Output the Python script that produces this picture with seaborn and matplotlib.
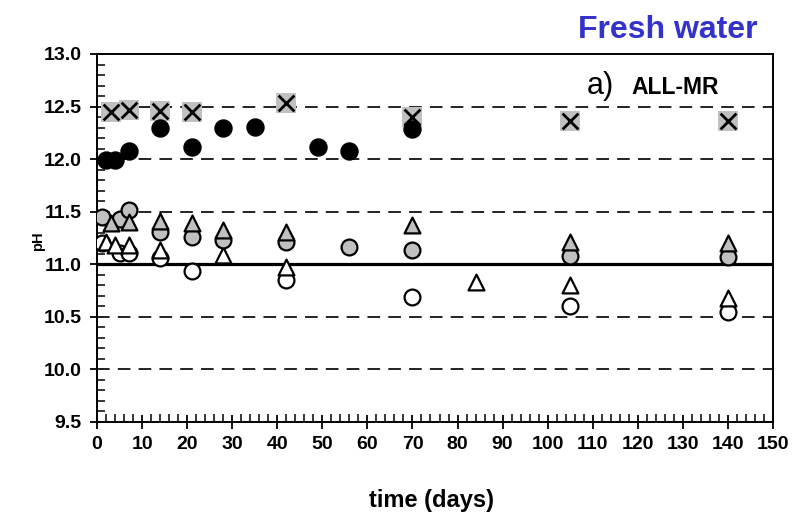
import matplotlib
matplotlib.use("Agg")
import matplotlib.pyplot as plt
from matplotlib.ticker import MultipleLocator, FormatStrFormatter
import seaborn as sns
import pandas as pd

sns.set_theme(style="white")
plt.rcParams["font.family"] = ["Liberation Sans", "DejaVu Sans"]
plt.rcParams["text.color"] = "black"
plt.rcParams["xtick.color"] = "black"
plt.rcParams["ytick.color"] = "black"

# pH over time for the ALL-MR mixes in fresh water
x_sq_days = [3, 7, 14, 21, 42, 70, 105, 140]
x_sq_ph = [12.45, 12.47, 12.46, 12.45, 12.53, 12.40, 12.36, 12.36]

black_days = [2, 4, 7, 14, 21, 28, 35, 49, 56, 70]
black_ph = [11.99, 11.99, 12.08, 12.30, 12.12, 12.30, 12.31, 12.12, 12.08, 12.29]

grey_circ_days = [1, 5, 7, 14, 21, 28, 42, 56, 70, 105, 140]
grey_circ_ph = [11.45, 11.43, 11.52, 11.31, 11.26, 11.23, 11.21, 11.16, 11.14, 11.08, 11.07]

grey_tri_days = [3, 7, 14, 21, 28, 42, 70, 105, 140]
grey_tri_ph = [11.39, 11.40, 11.41, 11.39, 11.33, 11.31, 11.37, 11.21, 11.20]

open_circ_days = [1, 5, 7, 14, 21, 42, 70, 105, 140]
open_circ_ph = [11.20, 11.11, 11.11, 11.06, 10.94, 10.85, 10.69, 10.60, 10.55]

open_tri_days = [2, 4, 7, 14, 28, 42, 84, 105, 140]
open_tri_ph = [11.21, 11.18, 11.18, 11.14, 11.09, 10.97, 10.83, 10.80, 10.68]

x_ticks = list(range(0, 151, 10))
y_ticks = [9.5, 10.0, 10.5, 11.0, 11.5, 12.0, 12.5, 13.0]
dashed_levels = [10.0, 10.5, 11.5, 12.0, 12.5]
reference_ph = 11.0

GREY = "#c0c0c0"
W, H = 792, 523
TICK_FONT = ["Liberation Sans Narrow", "Liberation Sans", "DejaVu Sans"]

fig = plt.figure(figsize=(W / 100, H / 100), dpi=100)
ax = fig.add_axes([97 / W, 1 - 422 / H, 676 / W, 368 / H])

for lvl in dashed_levels:
    ax.axhline(lvl, color="#222222", lw=1.4, dashes=(6.5, 4.2), zorder=1)
ax.axhline(reference_ph, color="black", lw=2.3, zorder=1)

def pts(days, ph):
    return pd.DataFrame({"day": days, "pH": ph})

sns.scatterplot(data=pts(open_circ_days, open_circ_ph), x="day", y="pH", ax=ax,
                marker="o", s=130, color="white", edgecolor="black", linewidth=1.6, zorder=3)
sns.scatterplot(data=pts(open_tri_days, open_tri_ph), x="day", y="pH", ax=ax,
                marker="^", s=130, color="white", edgecolor="black", linewidth=1.6, zorder=4)
sns.scatterplot(data=pts(grey_circ_days, grey_circ_ph), x="day", y="pH", ax=ax,
                marker="o", s=130, color=GREY, edgecolor="black", linewidth=1.6, zorder=5)
sns.scatterplot(data=pts(grey_tri_days, grey_tri_ph), x="day", y="pH", ax=ax,
                marker="^", s=130, color=GREY, edgecolor="black", linewidth=1.6, zorder=6)
sns.scatterplot(data=pts(x_sq_days, x_sq_ph), x="day", y="pH", ax=ax,
                marker="s", s=220, color=GREY, edgecolor=GREY, linewidth=0, zorder=7)
sns.scatterplot(data=pts(x_sq_days, x_sq_ph), x="day", y="pH", ax=ax,
                marker="x", s=130, color="black", linewidth=2.0, zorder=8)
sns.scatterplot(data=pts(black_days, black_ph), x="day", y="pH", ax=ax,
                marker="o", s=150, color="black", edgecolor="black", linewidth=1.0, zorder=9)

ax.set_xlim(0, 150)
ax.set_ylim(9.5, 13.0)
ax.set_xticks(x_ticks)
ax.set_yticks(y_ticks)
ax.yaxis.set_major_formatter(FormatStrFormatter("%.1f"))
ax.xaxis.set_minor_locator(MultipleLocator(2))
ax.yaxis.set_minor_locator(MultipleLocator(0.1))
ax.tick_params(axis="both", which="major", direction="inout", length=10, width=1.3,
               labelsize=14, pad=5)
ax.tick_params(axis="y", which="major", pad=6)
ax.tick_params(axis="both", which="minor", direction="in", length=6, width=1.1)
ax.tick_params(axis="x", which="both", bottom=True, top=False)
ax.tick_params(axis="y", which="both", left=True, right=False)
for lab in ax.get_xticklabels() + ax.get_yticklabels():
    lab.set_fontweight("bold")
    lab.set_family(TICK_FONT)

for side in ["left", "bottom", "right", "top"]:
    ax.spines[side].set_visible(True)
    ax.spines[side].set_color("black")
    ax.spines[side].set_linewidth(1.4)

ax.set_xlabel("")
ax.set_ylabel("")
fig.text(38 / W, 1 - 241 / H, "pH", rotation=90, ha="center", va="center",
         fontsize=10.5, fontweight="bold")
fig.text(432 / W, 1 - 500 / H, "time (days)", ha="center", va="center",
         fontsize=17, fontweight="bold")
fig.text(757 / W, 1 - 30 / H, "Fresh water", ha="right", va="center",
         fontsize=23, fontweight="bold", color="#3333cc")
fig.text(587 / W, 1 - 94 / H, "a)", ha="left", va="baseline", fontsize=22)
fig.text(631 / W, 1 - 94 / H, "ALL-MR", ha="left", va="baseline",
         fontsize=16.5, fontweight="bold")

fig.savefig("out.png", dpi=100, facecolor="white")
